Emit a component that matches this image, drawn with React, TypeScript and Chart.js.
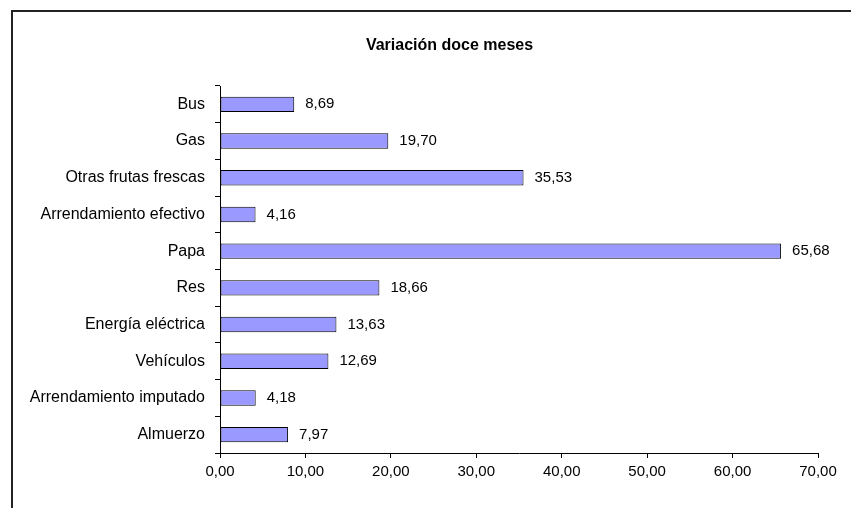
import React, { useEffect, useRef } from "react";
import { Chart, registerables } from "chart.js";

Chart.register(...registerables);

const categories = [
  "Bus",
  "Gas",
  "Otras frutas frescas",
  "Arrendamiento efectivo",
  "Papa",
  "Res",
  "Energía eléctrica",
  "Vehículos",
  "Arrendamiento imputado",
  "Almuerzo",
];
const values = [8.69, 19.7, 35.53, 4.16, 65.68, 18.66, 13.63, 12.69, 4.18, 7.97];
const xTickMin = 0;
const xTickMax = 70;
const xTickStep = 10;
const titleText = "Variación doce meses";

const FONT = '"Liberation Sans", Arial, sans-serif';
const fmt = (v: number) => v.toFixed(2).replace(".", ",");

const framePlugin = {
  id: "frame",
  beforeDraw(chart: any) {
    const ctx = chart.ctx;
    ctx.save();
    ctx.fillStyle = "#ffffff";
    ctx.fillRect(0, 0, chart.width, chart.height);
    ctx.strokeStyle = "#222222";
    ctx.lineWidth = 2;
    ctx.beginPath();
    ctx.moveTo(12, chart.height);
    ctx.lineTo(12, 11);
    ctx.lineTo(chart.width, 11);
    ctx.stroke();
    // chart title
    ctx.font = `bold 16px ${FONT}`;
    ctx.fillStyle = "#000000";
    ctx.textAlign = "center";
    ctx.textBaseline = "alphabetic";
    ctx.fillText(titleText, 449.5, 50);
    ctx.restore();
  },
};

const valueLabelPlugin = {
  id: "valueLabels",
  afterDatasetsDraw(chart: any) {
    const ctx = chart.ctx;
    const meta = chart.getDatasetMeta(0);
    ctx.save();
    ctx.font = `15px ${FONT}`;
    ctx.fillStyle = "#000000";
    ctx.textAlign = "left";
    ctx.textBaseline = "middle";
    meta.data.forEach((bar: any, i: number) => {
      ctx.fillText(fmt(values[i]), bar.x + 11, bar.y);
    });
    ctx.restore();
  },
};

export default function App() {
  const ref = useRef<HTMLCanvasElement>(null);
  useEffect(() => {
    if (!ref.current) return;
    const chart = new Chart(ref.current, {
      type: "bar",
      data: {
        labels: categories,
        datasets: [
          {
            data: values,
            backgroundColor: "#9999FF",
            borderColor: "#000000",
            borderWidth: 1,
            borderSkipped: false,
            barPercentage: 0.42,
            categoryPercentage: 1,
          },
        ],
      },
      options: {
        indexAxis: "y",
        animation: false,
        responsive: false,
        devicePixelRatio: 1,
        layout: { padding: { left: 0, right: 33, top: 86, bottom: 0 } },
        plugins: {
          legend: { display: false },
          tooltip: { enabled: false },
          title: { display: false },
        },
        scales: {
          x: {
            type: "linear",
            min: xTickMin,
            max: xTickMax,
            ticks: {
              stepSize: xTickStep,
              color: "#000000",
              font: { family: FONT, size: 15 },
              padding: 5,
              maxRotation: 0,
              callback: (v: any) => fmt(Number(v)),
            },
            grid: {
              drawOnChartArea: false,
              drawTicks: true,
              tickLength: 5,
              tickColor: "#000000",
              lineWidth: 1,
            },
            border: { display: true, color: "#000000", width: 1 },
            afterFit: (scale: any) => {
              scale.height = 55;
            },
          },
          y: {
            type: "category",
            offset: true,
            ticks: {
              color: "#000000",
              font: { family: FONT, size: 16 },
              padding: 10,
              autoSkip: false,
            },
            grid: {
              offset: true,
              drawOnChartArea: false,
              drawTicks: true,
              tickLength: 5,
              tickColor: "#000000",
              lineWidth: 1,
            },
            border: { display: true, color: "#000000", width: 1 },
            afterFit: (scale: any) => {
              scale.width = 220;
            },
          },
        },
      },
      plugins: [framePlugin, valueLabelPlugin],
    });
    return () => chart.destroy();
  }, []);
  return (
    <canvas
      ref={ref}
      width={851}
      height={508}
      style={{ position: "fixed", left: 0, top: 0, width: 851, height: 508 }}
    />
  );
}
